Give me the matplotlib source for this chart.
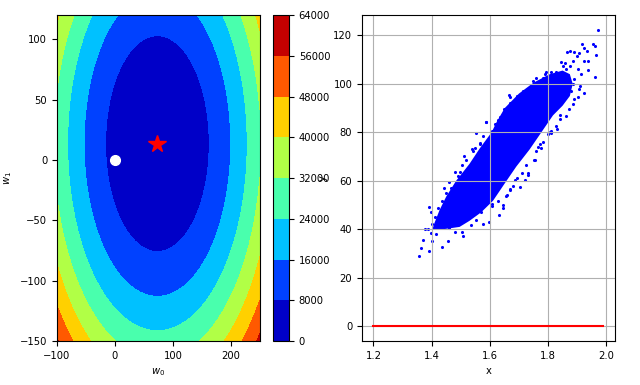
import matplotlib
matplotlib.use("Agg")
import matplotlib.pyplot as plt
import numpy as np

plt.rcParams['font.size'] = 7.2

# loss surface: bowl around the optimum
w0_star, w1_star = 73.3, 13.5
loss_min = 15.0
w0_range = (-100, 250)
w1_range = (-150, 120)
levels = [0, 8000, 16000, 24000, 32000, 40000, 48000, 56000, 64000]
start_w = (0, 0)

# height / weight cloud: dense core outline (x in m, y in kg)
core_x = [1.403, 1.409, 1.427, 1.450, 1.484, 1.530, 1.566, 1.606, 1.623, 1.651,
          1.700, 1.750, 1.806, 1.850, 1.875, 1.885, 1.875, 1.850, 1.817, 1.777,
          1.737, 1.691, 1.651, 1.611, 1.570, 1.530, 1.496, 1.438]
core_y = [40.1, 42.4, 47.9, 53.5, 60.0, 67.0, 73.5, 80.0, 84.2, 90.0,
          96.0, 100.5, 104.0, 105.5, 104.0, 100.0, 95.0, 91.0, 87.0, 80.0,
          73.0, 65.9, 58.9, 51.8, 47.0, 43.5, 41.0, 40.0]

# sparse points around the core
fringe_x = [1.588, 1.551, 1.539, 1.511, 1.504, 1.481, 1.499, 1.461, 1.444, 1.467,
            1.450, 1.435, 1.392, 1.397, 1.421, 1.413, 1.386, 1.378, 1.401, 1.398,
            1.415, 1.369, 1.401, 1.365, 1.392, 1.355, 1.435, 1.455, 1.504, 1.507,
            1.479, 1.459, 1.438, 1.577, 1.597, 1.632, 1.646, 1.606, 1.658, 1.669,
            1.681, 1.692, 1.571, 1.536, 1.554, 1.473, 1.452, 1.492, 1.519, 1.565,
            1.571,
            1.973, 1.953, 1.962, 1.916, 1.925, 1.933, 1.966, 1.961, 1.911, 1.922,
            1.936, 1.939, 1.922, 1.866, 1.877, 1.890, 1.907, 1.898, 1.845, 1.860,
            1.885, 1.853, 1.877, 1.902, 1.862, 1.828, 1.789, 1.783, 1.907, 1.885,
            1.890, 1.913, 1.890, 1.873, 1.862, 1.840, 1.828, 1.811, 1.800, 1.783,
            1.766, 1.749, 1.760, 1.715, 1.693, 1.670, 1.647, 1.668, 1.636, 1.619,
            1.608, 1.794, 1.811, 1.879, 1.902, 1.885,
            1.703, 1.720, 1.731, 1.732, 1.753, 1.776, 1.810,
            1.666, 1.586, 1.678, 1.646, 1.629, 1.577, 1.549, 1.541, 1.566, 1.840,
            1.831, 1.806, 1.771, 1.754, 1.726, 1.760, 1.709, 1.686, 1.669, 1.657,
            1.629, 1.646, 1.606, 1.566]
fringe_y = [84.2, 79.6, 73.3, 70.2, 66.5, 63.6, 63.6, 59.4, 57.0, 57.0,
            54.9, 51.8, 49.1, 47.2, 48.6, 45.2, 40.3, 40.3, 42.4, 38.5,
            38.2, 35.4, 35.1, 32.2, 31.2, 29.0, 32.9, 35.0, 38.9, 37.1,
            38.9, 40.7, 42.4, 42.1, 43.1, 45.9, 50.0, 50.3, 54.2, 56.3,
            57.7, 61.2, 47.2, 41.7, 43.8, 43.8, 47.9, 61.9, 68.8, 75.8,
            71.6,
            122.3, 116.3, 115.6, 116.3, 114.9, 113.4, 111.8, 103.0, 99.2, 96.2,
            105.8, 109.5, 109.5, 113.3, 113.6, 113.3, 112.6, 111.5, 109.0, 108.8,
            109.5, 107.4, 107.4, 106.0, 106.0, 104.7, 104.0, 102.6, 97.8, 99.9,
            101.9, 104.0, 93.7, 89.6, 86.8, 85.5, 82.7, 80.7, 79.3, 76.2,
            73.8, 101.2, 102.6, 97.1, 95.1, 92.3, 89.6, 94.7, 86.2, 83.4,
            80.7, 104.7, 104.9, 97.1, 94.4, 91.6,
            57.6, 60.4, 63.2, 62.6, 68.8, 73.6, 79.8,
            95.5, 84.2, 92.4, 87.7, 84.9, 78.6, 73.7, 72.3, 75.1, 87.0,
            81.4, 80.0, 75.1, 68.7, 66.6, 72.3, 63.1, 60.3, 56.8, 53.9,
            51.8, 49.0, 49.7, 50.4]

# prediction of the starting weights
line_x = [1.2, 1.99]
line_y = [0, 0]

fig = plt.figure(figsize=(6.4, 3.85), dpi=100)
ax1 = fig.add_axes([0.089, 0.114, 0.317, 0.847])
cax = fig.add_axes([0.4266, 0.114, 0.025, 0.847])
ax2 = fig.add_axes([0.5656, 0.114, 0.395, 0.847])

w0 = np.linspace(w0_range[0], w0_range[1], 200)
w1 = np.linspace(w1_range[0], w1_range[1], 200)
W0, W1 = np.meshgrid(w0, w1)
loss = (W0 - w0_star) ** 2 + (W1 - w1_star) ** 2 + loss_min

cs = ax1.contourf(W0, W1, loss, levels=levels, cmap='jet')
fig.colorbar(cs, cax=cax)
ax1.plot(w0_star, w1_star, marker='*', color='r', markersize=13)
ax1.plot(start_w[0], start_w[1], marker='o', color='w', markersize=7)
ax1.set_xlabel('$w_0$')
ax1.set_ylabel('$w_1$')
ax1.set_xlim(w0_range)
ax1.set_ylim(w1_range)

ax2.fill(core_x, core_y, color='b', lw=0, zorder=1)
ax2.scatter(fringe_x, fringe_y, s=5, c='b', marker='o', linewidths=0)
ax2.plot(line_x, line_y, 'r')
ax2.set_xlabel('x')
ax2.set_ylabel('y')
ax2.grid(True)

fig.savefig('out.png', dpi=100)
